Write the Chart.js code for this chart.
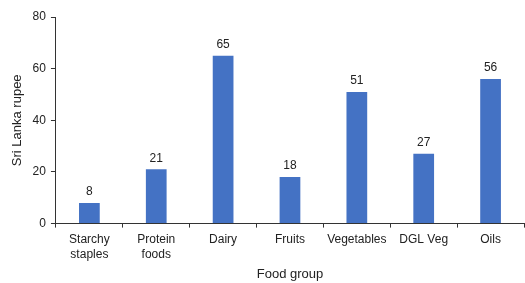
<!DOCTYPE html>
<html>
<head>
<meta charset="utf-8">
<script src="https://cdn.jsdelivr.net/npm/chart.js@4"></script>
<style>
  html, body { margin: 0; padding: 0; background: #fff; }
  #wrap { width: 525px; height: 283px; }
</style>
</head>
<body>
<div id="wrap"><canvas id="chart" width="525" height="283"></canvas></div>
<script>
const categories = [["Starchy", "staples"], ["Protein", "foods"], "Dairy", "Fruits", "Vegetables", "DGL Veg", "Oils"];
const costs = [8, 21, 65, 18, 51, 27, 56];
const yTicks = [0, 20, 40, 60, 80];

const FONT = "'Liberation Sans', Arial, sans-serif";
const TEXT = "#222";
const AXIS = "#333";

// writes the value above each bar
const barValues = {
  id: "barValues",
  afterDatasetsDraw(chart) {
    const ctx = chart.ctx;
    const meta = chart.getDatasetMeta(0);
    ctx.save();
    ctx.font = "12px " + FONT;
    ctx.fillStyle = TEXT;
    ctx.textAlign = "center";
    ctx.textBaseline = "bottom";
    meta.data.forEach((bar, i) => {
      ctx.fillText(costs[i], bar.x, bar.y - 5);
    });
    ctx.restore();
  }
};

new Chart(document.getElementById("chart"), {
  type: "bar",
  data: {
    labels: categories,
    datasets: [{
      data: costs,
      backgroundColor: "#4472C4",
      borderWidth: 0,
      barPercentage: 0.62,
      categoryPercentage: 0.5
    }]
  },
  options: {
    responsive: false,
    animation: false,
    layout: { padding: { top: 17, right: 1, left: 6, bottom: 0 } },
    plugins: { legend: { display: false }, tooltip: { enabled: false } },
    scales: {
      x: {
        offset: true,
        grid: { offset: true, drawOnChartArea: false, tickLength: 4, color: AXIS },
        border: { color: AXIS, width: 1 },
        ticks: { color: TEXT, font: { family: FONT, size: 12 }, maxRotation: 0, autoSkip: false, padding: 5 },
        title: { display: true, text: "Food group", color: TEXT, font: { family: FONT, size: 13 }, padding: { top: 0, bottom: 1 } }
      },
      y: {
        min: 0,
        max: 80,
        afterBuildTicks(scale) { scale.ticks = yTicks.map(v => ({ value: v })); },
        grid: { drawOnChartArea: false, tickLength: 5, color: AXIS },
        border: { color: AXIS, width: 1 },
        ticks: { color: TEXT, font: { family: FONT, size: 12 }, padding: 5 },
        title: { display: true, text: "Sri Lanka rupee", color: TEXT, font: { family: FONT, size: 13 }, padding: { bottom: 2 } }
      }
    }
  },
  plugins: [barValues]
});
</script>
</body>
</html>
